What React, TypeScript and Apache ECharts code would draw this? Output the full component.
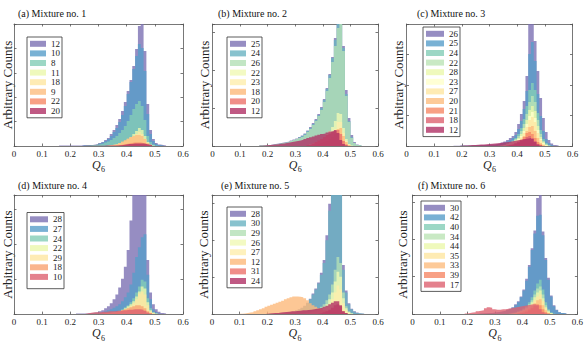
import React, { useEffect, useRef } from 'react';
import * as echarts from 'echarts';

const FONT = '"Liberation Serif", "Times New Roman", serif';
const ALPHA = 0.8;      // layer opacity
const TINT = 0.65;      // colour strength of a single layer seen over white
const BIN = 0.01;
const X_TICKS = [0, 0.1, 0.2, 0.3, 0.4, 0.5, 0.6];

// ---------- (a) Mixture no. 1 : bins start at Q6 = 0.165 (centres) ----------
const A_NAMES = ['12', '10', '8', '11', '18', '9', '22', '20'];
const A_Q0 = 0.165;
const A_12 = [0.5,0.5,0.5,0.5,0.5,0.5,0.5,0.5,1,1, 1,1,1.5,2,3,4,6,8,12,16, 21,27,35,44,55,66,80,97,120,135, 95,42,16,7,3,1.5,1,0.5];
const A_10 = [0,0,0,0,0,0,0,0,0.5,0.5, 1,1,1,1.5,2.5,3.5,5,7,10,14, 18,24,31,40,52,64,77,90,102,98, 75,32,12,5,2,1,0.5];
const A_8 = [0,0,0,0,0,0,0,0,0,0.5, 0.5,1,1,1.5,2,2.5,3.5,4.5,6,8, 10,13,16,20,25,31,37,42,45,40, 26,10,4,1.5,0.5];
const A_11 = [0,0,0,0,0,0,0,0,0,0, 0,0,0,0,0,0,0,0.5,1,1.5, 2,3,4,5,7,9,12,15,18,16, 10,4,1.5,0.5];
const A_18 = [0,0,0,0,0,0,0,0,0,0, 0,0,0,0,0,0,0,0,0.5,1, 1.5,2,3,4.5,6,8,10,12,14,12, 7,3,1];
const A_9 = [0,0,0,0,0,0,0,0,0,0, 0,0,0,0,0,0,0,0.5,1,1.5, 2,3,4.5,6,7.5,9,10,11,11,10, 7,3,1];
const A_22 = [0,0,0,0,0,0,0,0,0,0, 0,0,0,0,0,0,0,0,0,0, 0.5,1,1.5,2,2.5,3,3.5,3.5,3.5,3, 2.5,1.5,0.5];
const A_20 = [0,0,0,0,0,0,0,0,0,0.3, 0.3,0.3,0.3,0.3,0.3,0.3,0.5,0.5,0.5,0.5, 0.5,0.8,1,1.5,2,2,2.5,2.5,2.5,2.5, 2,1.5,1];

// ---------- (b) Mixture no. 2 : start 0.175 ----------
const B_NAMES = ['25', '24', '26', '22', '23', '18', '20', '12'];
const B_Q0 = 0.175;
const B_25 = [0.5,0.5,0.5,1,1.5,2,2.5,3,3.5,4, 4.5,5.5,6.5,7.5,9,10.5,12.5,15.5,19,23, 27,32,39,47,58,72,89,108,130,138, 100,56,28,11,4,1.5,0.5];
const B_24 = [0.5,0.5,0.5,1,1,1.5,2,2.5,3,3.5, 4,5,6,7,8.5,10,12,15,18,22, 26,31,38,46,57,71,88,106,135,140, 98,52,25,9,3,1,0.5];
const B_26 = [0.5,0.5,0.5,1,1,1.5,2,2.5,3,3.5, 4,5,6,7,8,9,11,14,17,21, 25,30,36,44,55,68,84,100,118,124, 95,50,24,8,3,1,0.5];
const B_22 = [0,0,0,0,0,0,0,0,0,0, 0,0,0,0,0,0,0,1,2,3, 4,5,7,9,12,15,19,25,33,32, 18,7,2,0.5];
const B_23 = [0,0,0,0,0,0,0,0,0,0, 0,0,0,0,0,0,0,0,1,2, 3,4,5,6,8,10,13,17,24,24, 13,5,1.5];
const B_18 = [0,0,0,0,0,0,0,0,0,0, 0,0,0,0,0,0,0,0,0,0, 1,2,3,4,5,7,9,12,17,18, 10,4,1];
const B_20 = [0,0,0,0,0,0,0,0,0,0, 0,0,0,0,0,0,0,1,1.5,2.5, 4,5.5,7,9,11,12.5,14,15,16,12, 5,1.5];
const B_12 = [0.3,0.5,0.7,1,1.2,1.5,1.8,2.2,2.5,3, 3.4,4,4.5,5,5.6,6.2,7,8,8.8,9.6, 10.4,11.2,12,12.6,13.5,14.4,15,16,13,6, 2,0.5];

// ---------- (c) Mixture no. 3 : start 0.175 ----------
const C_NAMES = ['26', '25', '24', '22', '28', '23', '27', '20', '21', '18', '12'];
const C_Q0 = 0.175;
const C_26 = [0.3,0.3,0.5,0.5,0.5,0.5,0.5,0.8,0.8,1, 1,1,1.2,1.5,1.5,2,2.5,3.5,4.5,6, 8,10,14,22,32,45,70,125,135,105, 75,48,28,14,6,2.5,1,0.5];
const C_25 = [0,0,0.3,0.3,0.3,0.3,0.5,0.5,0.5,0.5, 0.8,0.8,1,1,1,1.5,2,2.5,3.5,4.5, 6,8,11,17,25,37,55,92,104,85, 52,30,15,7,3,1];
const C_24 = [0,0,0,0,0,0,0,0,0,0, 0,0,0,0,0,0,1,1.5,2,3, 4,5.5,8,12,18,27,40,56,63,56, 33,16,7,3,1];
const C_22 = [0,0,0,0,0,0,0,0,0,0, 0,0,0,0,0,0,0,1,1.5,2.5, 3.5,5,7,10,15,22,32,44,50,44, 26,12,5,2,0.5];
const C_28 = [0,0,0,0,0,0,0,0,0,0, 0,0,0,0,0,0,0,0.5,1,2, 3,4,6,8,12,18,26,36,40,35, 20,9,4,1];
const C_23 = [0,0,0,0,0,0,0,0,0,0, 0,0,0,0,0,0,0,0,1,1.5, 2.5,3.5,5,7,10,15,22,30,34,28, 16,7,3,1];
const C_27 = [0,0,0,0,0,0,0,0,0,0, 0,0,0,0,0,0,0,0,0.5,1, 2,3,4,6,8.5,13,19,26,29,24, 13,6,2,0.5];
const C_20 = [0,0,0,0,0,0,0,0,0,0, 0,0,0,0,0,0,0,0,0,1, 1.5,2,3,4.5,6.5,10,15,19,20,15, 8,3,1];
const C_21 = [0,0,0,0,0,0,0,0,0,0, 0,0,0,0,0,0,0,0,0,0, 1,1.5,2.5,4,6,9,13,14,12,8, 4,1.5];
const C_18 = [0,0,0,0,0,0,0,0,0,0, 0,0,0,0,0,0,0,0,0,0.5, 1,1.5,2.5,3.5,5,7,9,10,8,5, 2,0.5];
const C_12 = [0,0,0.3,0.5,0.5,0.8,1,1,1.2,1.5, 1.5,1.8,2,2.2,2.5,2.8,3,3.5,3.8,4, 4.5,5,5.5,6,6.5,7,7.5,8,7,4, 1.5,0.5];

// ---------- (d) Mixture no. 4 : start 0.225 ----------
const D_NAMES = ['28', '27', '24', '22', '29', '18', '10'];
const D_Q0 = 0.225;
const D_28 = [0.5,0.5,0.5,0.5,1,1,1.5,2,3,4, 6,8,11,15,20,27,36,48,65,95, 130,150,160,150,125,55,22,10,5,2.5, 1,0.5];
const D_27 = [0,0,0,0,0,0.5,1,1,1.5,2, 3,4,5,6.5,8,10,13,17,22,30, 42,58,68,78,81,40,15,5,2,0.5];
const D_24 = [0,0,0,0,0,0,0,0,0,0, 0.5,1,1.5,2,2.5,3.5,5,7,9,12, 16,22,28,35,33,16,6,2,0.5];
const D_22 = [0,0,0,0,0,0,0,0,0,0, 0.5,1,1.5,2,2.5,3,4,6,8,10, 13,18,23,28,26,12,4,1.5,0.5];
const D_29 = [0,0,0,0,0,0,0,0,0,0, 0.3,0.5,1,1.5,2,2.5,3.5,5,6.5,8.5, 11,15,21,23,20,9,3,1];
const D_18 = [0,0,0,0,0,0,0,0,0.5,0.8, 1,1.2,1.5,2,2.5,3,4,5,6,7, 8,9,9,8,6,3,1];
const D_10 = [0,0,0,0.5,1,1.5,2,2,2,2.5, 2.5,3,3,3,3.5,3.5,4,4,4.5,4.5, 5,5,5,4.5,3.5,1.5,0.5];

// ---------- (e) Mixture no. 5 : start 0.105 ----------
const E_NAMES = ['28', '30', '29', '26', '27', '12', '31', '24'];
const E_Q0 = 0.105;
const E_28 = [0,0,0,0,0,0,0,0,0,0, 0.5,0.5,0.8,0.8,1,1.5,1.5,2,2.5,3, 4,5,6.5,8.5,11.5,15.5,21,26,32,42, 55,80,112,145,155,150,128,50,24,11, 5.5,3,1.5,0.5,0.3];
const E_30 = [0,0,0,0,0,0,0,0,0,0, 0.3,0.3,0.5,0.5,0.5,1,1,1.5,2,2.5, 3.5,4.5,6,8,11,15,20,25,31,40, 52,75,105,140,150,145,125,45,22,10, 5,2.5,1,0.5,0.3];
const E_29 = [0,0,0,0,0,0,0,0,0,0, 0,0,0,0,0,0,0,0,0,0, 0,0,0,1,1.5,2,3,4,5.5,7.5, 10,14,20,30,45,58,52,22,8,3, 1];
const E_26 = [0,0,0,0,0,0,0,0,0,0, 0,0,0,0,0,0,0,0,0,0, 0,0,0,0,1,1.5,2,3,4,5.5, 7.5,10,15,22,33,43,38,16,6,2, 0.5];
const E_27 = [0,0,0,0,0,0,0,0,0,0, 0,0,0,0,0,0,0,0,0,0, 0,0,0,0,0,1,1.5,2,3,4, 5,7,10,15,22,29,25,11,4,1.5];
const E_12 = [0.3,0.5,1,1.5,2,3,4,5,6,7.5, 8.5,9.5,10.5,11.5,12.5,13.5,15,16,17,18, 18,17.5,17,16,14,11,9,7.5,6,5, 4,3.5,3,2.5,2,1.5,1,0.5];
const E_31 = [0,0,0,0,0,0,0,0,0,0, 0,0,0,0,0,0,0,0,0,0, 0,0,0,0,0,0,0,0,0.5,1, 2,3,4.5,6.5,9,10,8,3,1];
const E_24 = [0,0,0,0,0,0,0,0,0,0.3, 0.5,0.8,1,1.2,1.5,2,2.2,2.5,2.8,3, 3.2,3.5,3.8,4,4.2,4.5,5,5.5,6,6.5, 7.5,8.5,10,11.5,13,13,9,3,1];

// ---------- (f) Mixture no. 6 : start 0.195 ----------
const F_NAMES = ['30', '42', '40', '34', '44', '35', '33', '39', '17'];
const F_Q0 = 0.195;
const F_30 = [0,0,0,0,0.3,0.5,0.5,0.8,1,1, 1.5,2,2.5,3,3.5,4.5,5.5,7,10,13, 18,25,36,50,67,85,118,138,84,57, 37,19,9,4.5,2,1,0.5];
const F_42 = [0,0,0,0,0,0.3,0.5,0.5,0.5,1, 1,1.5,2,2.5,3,4,5,6.5,9,12, 17,24,34,48,65,82,100,101,80,55, 35,18,8,4,2,1,0.5];
const F_40 = [0,0,0,0,0,0,0,0,0,0, 0,0,0,0,0,0,1,1.5,2,3, 4,6,8,12,17,24,31,35,25,12, 5,2,0.5];
const F_34 = [0,0,0,0,0,0,0,0,0,0, 0,0,0,0,0,0,0,1,1.5,2.5, 3.5,5,7,10,14,20,26,28,20,9, 4,1];
const F_44 = [0,0,0,0,0,0,0,0,0,0, 0,0,0,0,0,0,0,0.5,1,2, 3,4,6,8.5,12,17,22,24,16,7, 3,1];
const F_35 = [0,0,0,0,0,0,0,0,0,0, 0,0,0,0,0,0,0,0,1,1.5, 2.5,3.5,5,7,10,14,18,20,13,6, 2,0.5];
const F_33 = [0,0,0,0,0,0,0,0,0,0, 0,0,0,0,0,0,0,0,0,1, 2,3,4,5.5,8,11,14,15,9,4, 1];
const F_39 = [0,0,0,0,0,0,0,0,0,0, 0,0,0,0,0,0,0,0,0,0.5, 1,1.5,2.5,4,6,8.5,10,9,5,2, 0.5];
const F_17 = [0.5,1,1.5,2,3,3.5,4,6,7,6.5, 5,4.5,4.5,5,5,5.5,6,6.5,7,7.5, 8,8.5,9,9.5,10,10,9,5,2,0.5];

// ---------- panel styling / layout ----------
const SPECTRAL11 = ['#5e4fa2', '#3288bd', '#66c2a5', '#abdda4', '#e6f598', '#ffffbf', '#fee08b', '#fdae61', '#f46d43', '#d53e4f', '#9e0142'];

const PANELS = [
  {
    key: 'a', title: '(a) Mixture no. 1', names: A_NAMES, q0: A_Q0,
    data: [A_12, A_10, A_8, A_11, A_18, A_9, A_22, A_20],
    colors: ['#5e4fa2', '#3288bd', '#66c2a5', '#e6f598', '#fee08b', '#fdae61', '#f46d43', '#9e0142'],
    grid: { left: 13, top: 24, width: 170, height: 122 }, yMax: 122, yInt: 24.4,
    legend: { left: 27, top: 37, iw: 16, padB: 2 }, titlePos: { left: 18, top: 8.5 }, yGap: 0,
  },
  {
    key: 'b', title: '(b) Mixture no. 2', names: B_NAMES, q0: B_Q0,
    data: [B_25, B_24, B_26, B_22, B_23, B_18, B_20, B_12],
    colors: ['#5e4fa2', '#48a1b4', '#a1d9a4', '#edf8a3', '#fee99a', '#fca95d', '#e7524a', '#9e0142'],
    grid: { left: 212.5, top: 24, width: 165.5, height: 122 }, yMax: 122, yInt: 38,
    legend: { left: 227, top: 37, iw: 16, padB: 2 }, titlePos: { left: 218, top: 8.5 }, yGap: 2,
  },
  {
    key: 'c', title: '(c) Mixture no. 3', names: C_NAMES, q0: C_Q0,
    data: [C_26, C_25, C_24, C_22, C_28, C_23, C_27, C_20, C_21, C_18, C_12],
    colors: SPECTRAL11,
    grid: { left: 406.5, top: 24, width: 166, height: 122 }, yMax: 122, yInt: 30.5,
    legend: { left: 423, top: 27, iw: 18, padB: 2 }, titlePos: { left: 417, top: 8.5 }, yGap: 2,
  },
  {
    key: 'd', title: '(d) Mixture no. 4', names: D_NAMES, q0: D_Q0,
    data: [D_28, D_27, D_24, D_22, D_29, D_18, D_10],
    colors: ['#5e4fa2', '#3288bd', '#66c2a5', '#e6f598', '#fee08b', '#f88d52', '#d53e4f'],
    grid: { left: 13, top: 195, width: 170, height: 121 }, yMax: 121, yInt: 35.5,
    legend: { left: 27, top: 212.5, iw: 18, padB: 7 }, titlePos: { left: 18, top: 180.5 }, yGap: 0,
  },
  {
    key: 'e', title: '(e) Mixture no. 5', names: E_NAMES, q0: E_Q0,
    data: [E_28, E_30, E_29, E_26, E_27, E_12, E_31, E_24],
    colors: ['#5e4fa2', '#48a1b4', '#a1d9a4', '#edf8a3', '#fee99a', '#fca95d', '#e7524a', '#9e0142'],
    grid: { left: 212, top: 195, width: 166, height: 121 }, yMax: 121, yInt: 37.5,
    legend: { left: 227, top: 207, iw: 16, padB: 2 }, titlePos: { left: 221, top: 180.5 }, yGap: 2,
  },
  {
    key: 'f', title: '(f) Mixture no. 6', names: F_NAMES, q0: F_Q0,
    data: [F_30, F_42, F_40, F_34, F_44, F_35, F_33, F_39, F_17],
    colors: ['#5e4fa2', '#3288bd', '#66c2a5', '#abdda4', '#e6f598', '#fee08b', '#fdae61', '#f46d43', '#d53e4f'],
    grid: { left: 412.5, top: 195, width: 165, height: 121 }, yMax: 121, yInt: 38,
    legend: { left: 421, top: 201, iw: 21, padB: 2 }, titlePos: { left: 418, top: 180.5 }, yGap: 4,
  },
];

const AX = '#555';

// colour of one layer: lightened so that, drawn at ALPHA over white, it shows TINT of the base colour
function layerColor(hex: string) {
  const h = hex.replace('#', '');
  const w = TINT / ALPHA;
  const ch = [0, 2, 4].map((o) => Math.round(w * parseInt(h.slice(o, o + 2), 16) + (1 - w) * 255));
  return `rgba(${ch[0]},${ch[1]},${ch[2]},${ALPHA})`;
}

function steps(q0: number, vals: number[]) {
  const pts: number[][] = [];
  for (let k = 0; k < vals.length; k++) pts.push([+(q0 - BIN / 2 + k * BIN).toFixed(4), vals[k]]);
  pts.push([+(q0 - BIN / 2 + vals.length * BIN).toFixed(4), 0]);
  return pts;
}

function buildOption() {
  const grid: any[] = [], xAxis: any[] = [], yAxis: any[] = [], series: any[] = [], legend: any[] = [], title: any[] = [];
  PANELS.forEach((p, i) => {
    grid.push({ ...p.grid, containLabel: false });
    const tick = { show: true, inside: true, length: 2.5, lineStyle: { color: AX, width: 0.8 } };
    const line = { show: true, onZero: false, lineStyle: { color: AX, width: 0.8 } };
    xAxis.push({
      type: 'value', gridIndex: i, position: 'bottom', min: X_TICKS[0], max: X_TICKS[X_TICKS.length - 1], interval: 0.1,
      axisLine: line, axisTick: tick, splitLine: { show: false },
      axisLabel: { show: true, margin: 3, fontSize: 9, fontFamily: FONT, color: '#222' },
      name: '{q|Q}{s|6}', nameLocation: 'middle', nameGap: 10,
      nameTextStyle: {
        rich: {
          q: { fontSize: 12, fontStyle: 'italic', fontFamily: FONT, color: '#222', verticalAlign: 'bottom', padding: [0, 0, 3, 0] },
          s: { fontSize: 8, fontFamily: FONT, color: '#222', verticalAlign: 'bottom', padding: [0, 0, 0, 0.5] },
        },
      },
    });
    xAxis.push({
      type: 'value', gridIndex: i, position: 'top', min: 0, max: 0.6, interval: 0.1,
      axisLine: line, axisTick: tick, splitLine: { show: false }, axisLabel: { show: false },
    });
    yAxis.push({
      type: 'value', gridIndex: i, position: 'left', min: 0, max: p.yMax, interval: p.yInt,
      axisLine: line, axisTick: tick, splitLine: { show: false }, axisLabel: { show: false },
      name: 'Arbitrary Counts', nameLocation: 'middle', nameGap: p.yGap,
      nameTextStyle: { fontSize: 13, fontFamily: FONT, color: '#222' },
    });
    yAxis.push({
      type: 'value', gridIndex: i, position: 'right', min: 0, max: p.yMax, interval: p.yInt,
      axisLine: line, axisTick: tick, splitLine: { show: false }, axisLabel: { show: false },
    });
    const legendData: any[] = [];
    p.names.forEach((nm, j) => {
      const c = layerColor(p.colors[j]);
      const name = `${p.key}|${nm}`;
      legendData.push({ name, icon: 'rect' });
      series.push({
        type: 'line', name, xAxisIndex: 2 * i, yAxisIndex: 2 * i,
        data: steps(p.q0, p.data[j]), step: 'end', symbol: 'none', showSymbol: false, silent: true,
        lineStyle: { width: 0, opacity: 0 }, itemStyle: { color: c },
        areaStyle: { color: c, opacity: 1 }, z: 2 + j, animation: false,
      });
    });
    legend.push({
      left: p.legend.left, top: p.legend.top, orient: 'vertical', data: legendData,
      formatter: (n: string) => n.split('|')[1], selectedMode: false,
      itemWidth: p.legend.iw, itemHeight: 6, itemGap: 0,
      itemStyle: { borderWidth: 0 },
      textStyle: { fontSize: 9, fontFamily: FONT, color: '#222', lineHeight: 9.6 },
      padding: [2, 2, p.legend.padB, 3], borderColor: '#333', borderWidth: 0.8, backgroundColor: '#fff',
    });
    title.push({
      text: p.title, left: p.titlePos.left, top: p.titlePos.top, padding: 0,
      textStyle: { fontSize: 10, fontWeight: 'normal', fontFamily: FONT, color: '#111' },
    });
  });
  return { animation: false, backgroundColor: '#fff', title, grid, xAxis, yAxis, series, legend };
}

export default function App() {
  const ref = useRef<HTMLDivElement>(null);
  useEffect(() => {
    if (!ref.current) return;
    const chart = echarts.init(ref.current, undefined, { renderer: 'svg' });
    chart.setOption(buildOption() as any);
    return () => chart.dispose();
  }, []);
  return <div ref={ref} style={{ position: 'absolute', left: 0, top: 0, width: 586, height: 343 }} />;
}
